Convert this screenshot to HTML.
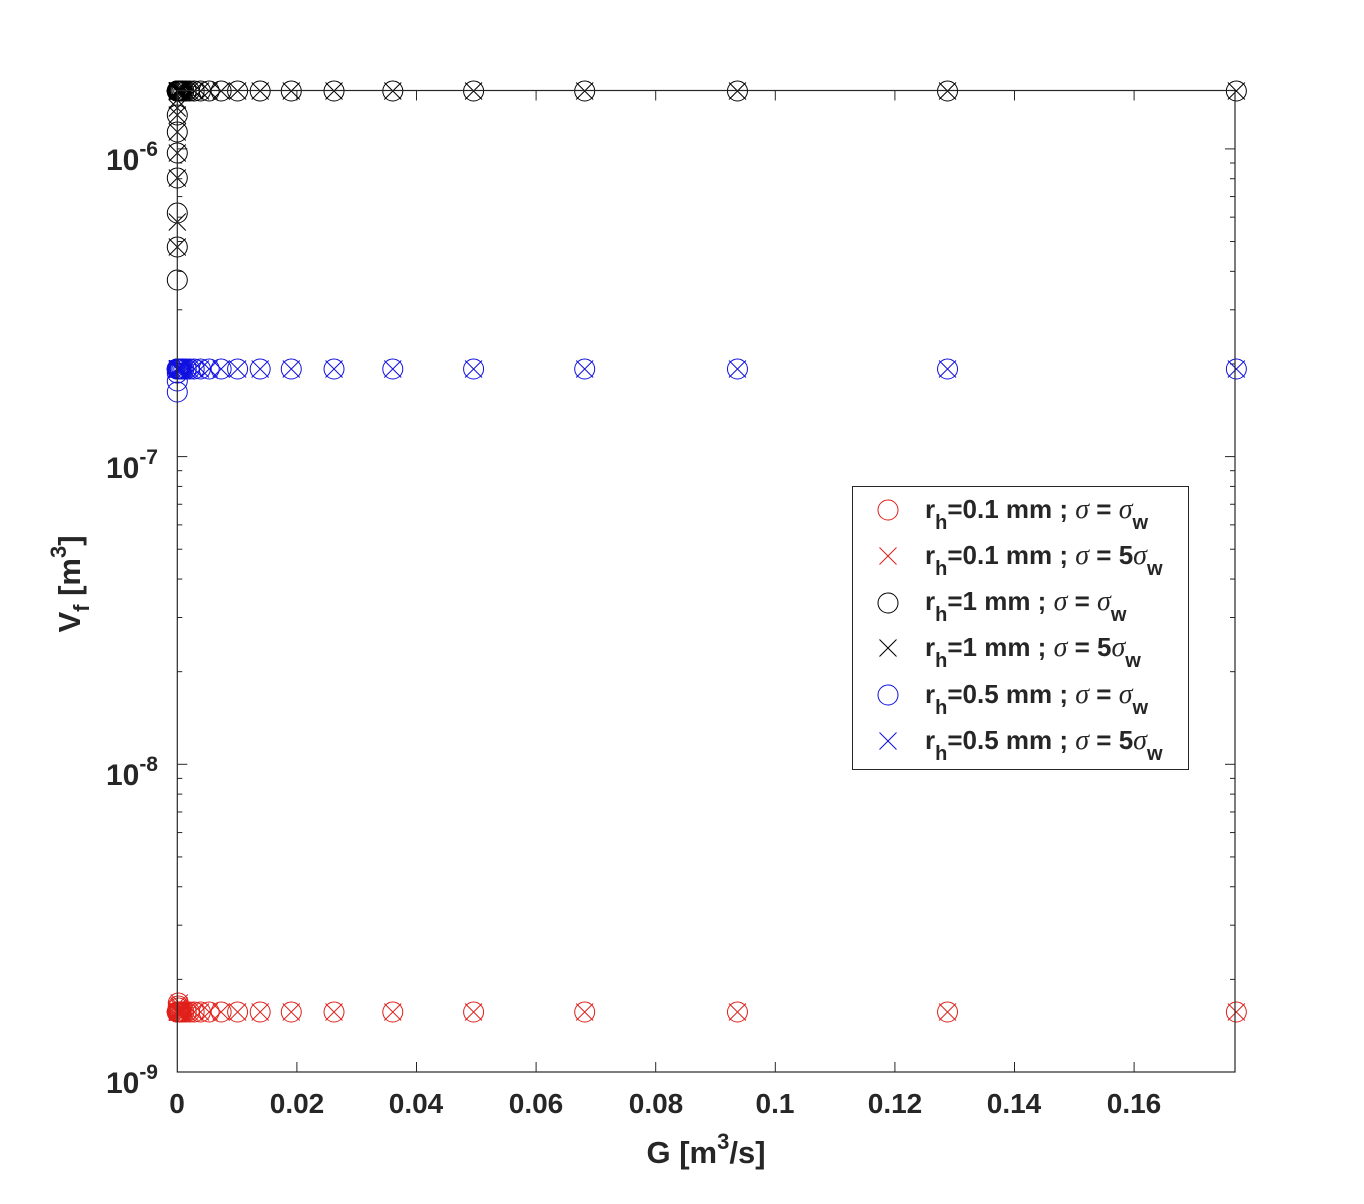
<!DOCTYPE html>
<html><head><meta charset="utf-8"><style>
body{margin:0;background:#fff}
svg{display:block}
text{font-family:"Liberation Sans",sans-serif;font-weight:bold;fill:#262626}
</style></head><body>
<svg id="s" width="1364" height="1204" xmlns="http://www.w3.org/2000/svg">
<rect x="0" y="0" width="1364" height="1204" fill="#fff"/>
<g id="ticks" stroke="#262626" stroke-width="1" fill="none"></g>
<g id="data" fill="none" stroke-width="1"></g>
<rect x="177.3" y="90.5" width="1057.7" height="981.5" fill="none" stroke="#262626" stroke-width="1.2"/>
<g font-size="28" text-anchor="middle">
<text x="177" y="1113">0</text>
<text x="297" y="1113">0.02</text>
<text x="416" y="1113">0.04</text>
<text x="536" y="1113">0.06</text>
<text x="656" y="1113">0.08</text>
<text x="775" y="1113">0.1</text>
<text x="895" y="1113">0.12</text>
<text x="1014" y="1113">0.14</text>
<text x="1134" y="1113">0.16</text>
</g>
<g font-size="30" text-anchor="end">
<text x="158" y="170">10<tspan dy="-14" font-size="21">-6</tspan></text>
<text x="158" y="478">10<tspan dy="-14" font-size="21">-7</tspan></text>
<text x="158" y="785">10<tspan dy="-14" font-size="21">-8</tspan></text>
<text x="158" y="1093">10<tspan dy="-14" font-size="21">-9</tspan></text>
</g>
<text x="706" y="1163" font-size="31" text-anchor="middle">G [m<tspan dy="-14" font-size="22">3</tspan><tspan dy="14">/s]</tspan></text>
<text transform="translate(80,584) rotate(-90)" font-size="31" text-anchor="middle">V<tspan dy="9" font-size="22">f</tspan><tspan dy="-9"> [m</tspan><tspan dy="-14" font-size="22">3</tspan><tspan dy="14">]</tspan></text>
<rect x="852.5" y="486.5" width="336" height="283" fill="#fff" stroke="#262626" stroke-width="1"/>
<g id="leg" fill="none" stroke-width="1"></g>
<g font-size="26">
<text x="925" y="518">r<tspan dy="11" font-size="20">h</tspan><tspan dy="-11">=0.1 mm ; </tspan><tspan font-family="Liberation Serif" font-style="italic" font-weight="normal" font-size="28">σ</tspan> = <tspan font-family="Liberation Serif" font-style="italic" font-weight="normal" font-size="28">σ</tspan><tspan dy="11" font-size="20">w</tspan></text>
<text x="925" y="564">r<tspan dy="11" font-size="20">h</tspan><tspan dy="-11">=0.1 mm ; </tspan><tspan font-family="Liberation Serif" font-style="italic" font-weight="normal" font-size="28">σ</tspan> = 5<tspan font-family="Liberation Serif" font-style="italic" font-weight="normal" font-size="28">σ</tspan><tspan dy="11" font-size="20">w</tspan></text>
<text x="925" y="610">r<tspan dy="11" font-size="20">h</tspan><tspan dy="-11">=1 mm ; </tspan><tspan font-family="Liberation Serif" font-style="italic" font-weight="normal" font-size="28">σ</tspan> = <tspan font-family="Liberation Serif" font-style="italic" font-weight="normal" font-size="28">σ</tspan><tspan dy="11" font-size="20">w</tspan></text>
<text x="925" y="656">r<tspan dy="11" font-size="20">h</tspan><tspan dy="-11">=1 mm ; </tspan><tspan font-family="Liberation Serif" font-style="italic" font-weight="normal" font-size="28">σ</tspan> = 5<tspan font-family="Liberation Serif" font-style="italic" font-weight="normal" font-size="28">σ</tspan><tspan dy="11" font-size="20">w</tspan></text>
<text x="925" y="703">r<tspan dy="11" font-size="20">h</tspan><tspan dy="-11">=0.5 mm ; </tspan><tspan font-family="Liberation Serif" font-style="italic" font-weight="normal" font-size="28">σ</tspan> = <tspan font-family="Liberation Serif" font-style="italic" font-weight="normal" font-size="28">σ</tspan><tspan dy="11" font-size="20">w</tspan></text>
<text x="925" y="749">r<tspan dy="11" font-size="20">h</tspan><tspan dy="-11">=0.5 mm ; </tspan><tspan font-family="Liberation Serif" font-style="italic" font-weight="normal" font-size="28">σ</tspan> = 5<tspan font-family="Liberation Serif" font-style="italic" font-weight="normal" font-size="28">σ</tspan><tspan dy="11" font-size="20">w</tspan></text>
</g>
</svg>
<script>
var NS="http://www.w3.org/2000/svg";
function el(p,t,a){var e=document.createElementNS(NS,t);for(var k in a)e.setAttribute(k,a[k]);p.appendChild(e);return e;}
var T=document.getElementById("ticks"),D=document.getElementById("data"),L=document.getElementById("leg");
var X0=177.3,XS=5980,Y9=1072,DEC=307.7,L1=177.3,R=1235,TOP=90.5,B=1072;
for(var i=1;i<=8;i++){var x=X0+i*0.02*XS;el(T,"line",{x1:x,y1:B,x2:x,y2:B-10});el(T,"line",{x1:x,y1:TOP,x2:x,y2:TOP+10});}
for(var d=0;d<4;d++){for(var m=1;m<10;m++){var y=Y9-(d+Math.log10(m))*DEC;if(y<TOP)break;var len=m==1?10:5;
el(T,"line",{x1:L1,y1:y,x2:L1+len,y2:y});el(T,"line",{x1:R,y1:y,x2:R-len,y2:y});}}
function circ(g,x,y,c){el(g,"circle",{cx:x,cy:y,r:10,stroke:c});}
function cross(g,x,y,c){var r=8.5;el(g,"path",{d:"M"+(x-r)+" "+(y-r)+"L"+(x+r)+" "+(y+r)+"M"+(x-r)+" "+(y+r)+"L"+(x+r)+" "+(y-r),stroke:c});}
var xs=[];var v=0.1771;for(var i=0;i<40;i++){xs.push(X0+v*XS);v/=1.375;}
var rows=[[91,"#000"],[369,"#1010e0"],[1012,"#e0201a"]];
rows.forEach(function(r){xs.forEach(function(x){circ(D,x,r[0],r[1]);cross(D,x,r[0],r[1]);});});
[115,132,153,178,213,247,280].forEach(function(y){circ(D,X0,y,"#000");});
[100,108,115,132,153,178,222,247].forEach(function(y){cross(D,X0,y,"#000");});
[373,381,392].forEach(function(y){circ(D,X0,y,"#1010e0");});
[1003,1006,1008].forEach(function(y){circ(D,X0+1,y,"#e0201a");cross(D,X0+2,y,"#e0201a");});
var lc=["#e0201a","#e0201a","#000","#000","#1010e0","#1010e0"];
[510,556,603,648,695,741].forEach(function(y,i){if(i%2==0)circ(L,888,y,lc[i]);else cross(L,888,y,lc[i]);});
</script>
</body></html>
